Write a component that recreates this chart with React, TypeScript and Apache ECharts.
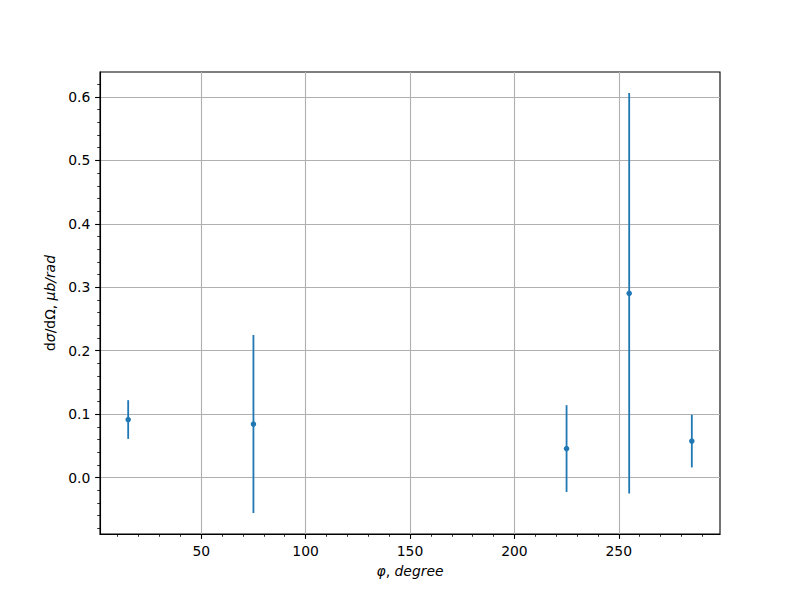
import React, { useEffect, useRef } from "react";
import * as echarts from "echarts";

const phiValues = [15, 75, 225, 255, 285];
const crossSection = [0.0915, 0.0844, 0.0457, 0.2905, 0.0575];
const errors = [0.0305, 0.1403, 0.0684, 0.3158, 0.0415];
const xTickValues = [50, 100, 150, 200, 250];
const yTickValues = [0, 0.1, 0.2, 0.3, 0.4, 0.5, 0.6];

const BLUE = "#1f77b4";
const FONT = "DejaVu Sans";
const FS = 13.9;

export default function App() {
  const ref = useRef<HTMLDivElement>(null);
  useEffect(() => {
    if (!ref.current) return;
    const chart = echarts.init(ref.current, undefined, { renderer: "svg" });
    const errData = phiValues.map((x, i) => [x, crossSection[i], errors[i]]);
    const ptData = phiValues.map((x, i) => [x, crossSection[i]]);
    const allLo = crossSection.map((y, i) => y - errors[i]);
    const allHi = crossSection.map((y, i) => y + errors[i]);
    const xLo = Math.min(...phiValues), xHi = Math.max(...phiValues);
    const yLo = Math.min(...allLo), yHi = Math.max(...allHi);
    const xm = (xHi - xLo) * 0.05, ym = (yHi - yLo) * 0.05;
    chart.setOption({
      animation: false,
      backgroundColor: "#ffffff",
      grid: {
        left: 100, top: 72, width: 620, height: 462,
        show: true, borderColor: "#000", borderWidth: 1.1, backgroundColor: "transparent",
      },
      xAxis: {
        type: "value",
        min: xLo - xm, max: xHi + xm,
        splitNumber: 5,
        name: "{i|φ}{n|, }{i|degree}",
        nameLocation: "middle",
        nameGap: 30,
        nameTextStyle: {
          rich: {
            i: { fontFamily: FONT, fontSize: FS, fontStyle: "italic", color: "#000" },
            n: { fontFamily: FONT, fontSize: FS, color: "#000" },
          },
        },
        axisLine: { show: true, onZero: false, lineStyle: { color: "#000", width: 1.1 } },
        axisTick: { show: true, customValues: xTickValues, length: 4.9, lineStyle: { color: "#000", width: 1.1 } },
        minorTick: { show: true, splitNumber: 5, length: 2.8, lineStyle: { color: "#000", width: 0.8 } },
        axisLabel: {
          customValues: xTickValues,
          margin: 9.7, fontFamily: FONT, fontSize: FS, color: "#000",
          formatter: (v: number) => String(Math.round(v)),
        },
        splitLine: { show: true, lineStyle: { color: "#b0b0b0", width: 1.1 } },
      },
      yAxis: {
        type: "value",
        min: yLo - ym, max: yHi + ym,
        splitNumber: 5,
        name: "{n|d}{i|σ}{n|/dΩ, }{i|μb/rad}",
        nameLocation: "middle",
        nameGap: 42,
        nameRotate: 90,
        nameTextStyle: {
          rich: {
            i: { fontFamily: FONT, fontSize: FS, fontStyle: "italic", color: "#000" },
            n: { fontFamily: FONT, fontSize: FS, color: "#000" },
          },
        },
        axisLine: { show: true, onZero: false, lineStyle: { color: "#000", width: 1.1 } },
        axisTick: { show: true, customValues: yTickValues, length: 4.9, lineStyle: { color: "#000", width: 1.1 } },
        minorTick: { show: true, splitNumber: 5, length: 2.8, lineStyle: { color: "#000", width: 0.8 } },
        axisLabel: {
          customValues: yTickValues,
          margin: 9.7, fontFamily: FONT, fontSize: FS, color: "#000",
          formatter: (v: number) => v.toFixed(1),
        },
        splitLine: { show: true, lineStyle: { color: "#b0b0b0", width: 1.1 } },
      },
      series: [
        {
          type: "custom",
          data: errData,
          encode: { x: 0, y: 1 },
          z: 3,
          renderItem: (params: any, api: any) => {
            const x = api.value(0), y = api.value(1), e = api.value(2);
            const p1 = api.coord([x, y - e]);
            const p2 = api.coord([x, y + e]);
            return {
              type: "line",
              shape: { x1: p1[0], y1: p1[1], x2: p2[0], y2: p2[1] },
              style: { stroke: BLUE, lineWidth: 1.8 },
            };
          },
        },
        {
          type: "scatter",
          data: ptData,
          symbol: "circle",
          symbolSize: 5.5,
          itemStyle: { color: BLUE, opacity: 1 },
          z: 4,
        },
      ],
    });
    return () => chart.dispose();
  }, []);
  return (
    <div
      ref={ref}
      style={{ position: "fixed", left: 0, top: 0, width: 800, height: 600, background: "#fff" }}
    />
  );
}
